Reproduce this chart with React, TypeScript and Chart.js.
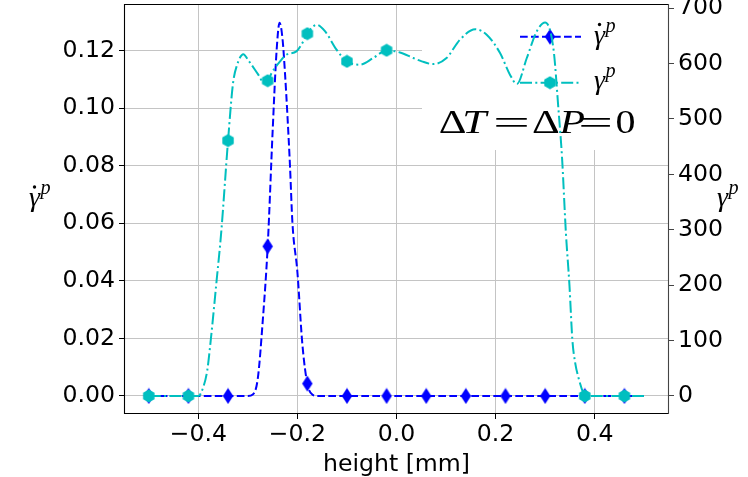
import React, { useEffect, useRef } from "react";
import { Chart, registerables } from "chart.js";

Chart.register(...registerables);

// ---- axis ticks ----
const xTicks = [-0.4, -0.2, 0.0, 0.2, 0.4];
const leftTicks = [0, 0.02, 0.04, 0.06, 0.08, 0.1, 0.12];
const rightTicks = [0, 100, 200, 300, 400, 500, 600, 700];

// ---- plastic strain rate (left axis) ----
const rateHeight = [-0.5, -0.42, -0.34, -0.3, -0.29, -0.28, -0.27, -0.26, -0.25, -0.242, -0.236, -0.23, -0.225, -0.22, -0.215, -0.21, -0.2, -0.19, -0.18, -0.17, -0.16, -0.1, -0.02, 0.06, 0.14, 0.22, 0.3, 0.38, 0.46, 0.5];
const rateValue = [0, 0, 0, 0, 0.0005, 0.006, 0.026, 0.052, 0.092, 0.12, 0.1297, 0.124, 0.112, 0.097, 0.08, 0.06, 0.043, 0.018, 0.0043, 0.0005, 0, 0, 0, 0, 0, 0, 0, 0, 0, 0];
const rateMarkerHeights = [-0.5, -0.42, -0.34, -0.26, -0.18, -0.1, -0.02, 0.06, 0.14, 0.22, 0.3, 0.38, 0.46];

// ---- plastic strain (right axis) ----
const strainHeight = [-0.5, -0.42, -0.4, -0.39, -0.382, -0.375, -0.363, -0.354, -0.34, -0.33, -0.322, -0.309, -0.3, -0.279, -0.269, -0.26, -0.252, -0.235, -0.222, -0.202, -0.192, -0.18, -0.161, -0.144, -0.121, -0.1, -0.074, -0.047, -0.02, 0.007, 0.034, 0.051, 0.074, 0.101, 0.128, 0.159, 0.182, 0.209, 0.229, 0.243, 0.263, 0.283, 0.3, 0.317, 0.327, 0.334, 0.342, 0.349, 0.355, 0.361, 0.367, 0.377, 0.38, 0.46, 0.5];
const strainValue = [0, 0, 0, 16, 46, 100, 209, 293, 461, 564, 597, 617, 607, 580, 567, 569, 583, 604, 616, 622, 634, 654, 670, 658, 625, 604, 598, 610, 624, 620, 610, 604, 599, 610, 643, 662, 652, 619, 580, 563, 610, 658, 674, 625, 516, 432, 293, 201, 101, 58, 34, 5, 0, 0, 0];
const strainMarkerHeights = [-0.5, -0.42, -0.34, -0.26, -0.18, -0.1, -0.02, 0.38, 0.46];

const BLUE = "#0000ff";
const CYAN = "#00bfbf";
const TICK_FONT = { family: "DejaVu Sans", size: 23.6 };

function makeDiamond(): HTMLCanvasElement {
  const c = document.createElement("canvas");
  c.width = 12; c.height = 17;
  const g = c.getContext("2d")!;
  g.fillStyle = BLUE;
  g.beginPath();
  g.moveTo(6, 0.5); g.lineTo(11.2, 8.5); g.lineTo(6, 16.5); g.lineTo(0.8, 8.5);
  g.closePath(); g.fill();
  return c;
}

function makeHex(): HTMLCanvasElement {
  const c = document.createElement("canvas");
  c.width = 14; c.height = 14;
  const g = c.getContext("2d")!;
  g.fillStyle = CYAN;
  g.beginPath();
  const r = 6.6;
  for (let k = 0; k < 6; k++) {
    const a = -Math.PI / 2 + (k * Math.PI) / 3;
    const px = 7 + r * Math.cos(a), py = 7 + r * Math.sin(a);
    if (k === 0) g.moveTo(px, py); else g.lineTo(px, py);
  }
  g.closePath(); g.fill();
  return c;
}

const isIn = (arr: number[], v: number) => arr.some((m) => Math.abs(m - v) < 1e-6);

function drawGamma(ctx: CanvasRenderingContext2D, x: number, base: number, size: number, dotted: boolean) {
  ctx.save();
  ctx.fillStyle = "#000";
  ctx.textBaseline = "alphabetic";
  ctx.textAlign = "left";
  ctx.font = `italic ${size}px "Liberation Serif"`;
  ctx.fillText("γ", x, base);
  const w = ctx.measureText("γ").width;
  if (dotted) {
    ctx.beginPath();
    ctx.arc(x + w * 0.5, base - size * 0.68, size * 0.06, 0, Math.PI * 2);
    ctx.fill();
  }
  ctx.font = `italic ${size * 0.72}px "Liberation Serif"`;
  ctx.fillText("p", x + w + 0.5, base - size * 0.42);
  ctx.restore();
}

function drawFitted(ctx: CanvasRenderingContext2D, text: string, italic: boolean, left: number, right: number, base: number, size: number) {
  ctx.save();
  ctx.font = `${italic ? "italic " : ""}${size}px "Liberation Serif"`;
  ctx.textBaseline = "alphabetic";
  ctx.textAlign = "left";
  ctx.fillStyle = "#000";
  const m = ctx.measureText(text);
  const ink = m.actualBoundingBoxLeft + m.actualBoundingBoxRight;
  const sx = (right - left) / ink;
  ctx.translate(left + m.actualBoundingBoxLeft * sx, base);
  ctx.scale(sx, 1);
  ctx.fillText(text, 0, 0);
  ctx.restore();
}

export default function App() {
  const ref = useRef<HTMLCanvasElement | null>(null);

  useEffect(() => {
    document.body.style.margin = "0";
    const canvas = ref.current!;
    const diamond = makeDiamond();
    const hex = makeHex();

    const rateData = rateHeight.map((h, i) => ({ x: h, y: rateValue[i] }));
    const strainData = strainHeight.map((h, i) => ({ x: h, y: strainValue[i] }));

    const BLUE_DASH = [7.7, 3.3];
    const CYAN_DASH = [12, 3.3, 2, 3.3];

    const overlay = {
      id: "overlay",
      beforeDatasetsDraw(chart: any) {
        const ctx: CanvasRenderingContext2D = chart.ctx;
        const a = chart.chartArea;
        ctx.save();
        ctx.fillStyle = "#ffffff";
        ctx.fillRect(422, a.top + 1, a.right - 1 - 422, 150 - a.top - 1);
        ctx.lineWidth = 2;
        ctx.strokeStyle = BLUE;
        ctx.setLineDash(BLUE_DASH);
        ctx.beginPath(); ctx.moveTo(520, 36.7); ctx.lineTo(581, 36.7); ctx.stroke();
        ctx.drawImage(diamond, 550 - diamond.width / 2, 36.7 - diamond.height / 2);
        ctx.strokeStyle = CYAN;
        ctx.setLineDash(CYAN_DASH);
        ctx.beginPath(); ctx.moveTo(520, 82.7); ctx.lineTo(581, 82.7); ctx.stroke();
        ctx.drawImage(hex, 550 - hex.width / 2, 82.7 - hex.height / 2);
        ctx.setLineDash([]);
        ctx.restore();
        drawGamma(ctx, 594, 43.5, 28, true);
        drawGamma(ctx, 594, 89, 28, false);
        const b = 133.3, fs = 32.8;
        drawFitted(ctx, "Δ", false, 440, 465, b, fs);
        drawFitted(ctx, "T", true, 465, 490, b, fs);
        drawFitted(ctx, "=", false, 495, 527, b + 1, fs);
        drawFitted(ctx, "Δ", false, 533.3, 558.3, b, fs);
        drawFitted(ctx, "P", true, 558.3, 585, b, fs);
        drawFitted(ctx, "=", false, 580, 610, b + 1, fs);
        drawFitted(ctx, "0", false, 616.7, 635, b, fs);
      },
      afterDraw(chart: any) {
        const ctx: CanvasRenderingContext2D = chart.ctx;
        const a = chart.chartArea;
        ctx.save();
        ctx.lineWidth = 1.1;
        ctx.strokeStyle = "#000";
        ctx.beginPath();
        ctx.moveTo(a.left + 0.5, a.top + 0.5);
        ctx.lineTo(a.right - 0.5, a.top + 0.5);
        ctx.moveTo(a.left + 0.5, a.top);
        ctx.lineTo(a.left + 0.5, a.bottom);
        ctx.moveTo(a.left, a.bottom - 0.5);
        ctx.lineTo(a.right, a.bottom - 0.5);
        ctx.stroke();
        ctx.strokeStyle = "#444";
        ctx.beginPath();
        ctx.moveTo(a.right - 0.5, a.top);
        ctx.lineTo(a.right - 0.5, a.bottom);
        ctx.stroke();
        ctx.fillStyle = "#000";
        ctx.font = '23.6px "DejaVu Sans"';
        ctx.textAlign = "center";
        ctx.textBaseline = "alphabetic";
        ctx.fillText("height [mm]", (a.left + a.right) / 2, 471);
        ctx.restore();
        drawGamma(ctx, 29, 206, 28, true);
        drawGamma(ctx, 717, 206, 28, false);
      },
    };

    const zeroPad = (s: any) => { s.paddingTop = 0; s.paddingBottom = 0; s.paddingLeft = 0; s.paddingRight = 0; };

    const chart = new Chart(canvas, {
      type: "line",
      data: {
        datasets: [
          {
            label: "γ^p",
            data: strainData,
            yAxisID: "y1",
            borderColor: CYAN,
            backgroundColor: CYAN,
            borderWidth: 2,
            borderDash: CYAN_DASH,
            cubicInterpolationMode: "monotone",
            fill: false,
            pointStyle: hex as any,
            pointRadius: (c: any) => (isIn(strainMarkerHeights, c.raw?.x) ? 7 : 0),
            pointHoverRadius: 0,
            order: 0,
          },
          {
            label: "γ̇^p",
            data: rateData,
            yAxisID: "y",
            borderColor: BLUE,
            backgroundColor: BLUE,
            borderWidth: 2,
            borderDash: BLUE_DASH,
            cubicInterpolationMode: "monotone",
            fill: false,
            pointStyle: diamond as any,
            pointRadius: (c: any) => (isIn(rateMarkerHeights, c.raw?.x) ? 7 : 0),
            pointHoverRadius: 0,
            order: 1,
          },
        ],
      },
      options: {
        responsive: false,
        animation: false,
        devicePixelRatio: 1,
        events: [],
        layout: { autoPadding: false, padding: { top: 4, left: 0, right: 0, bottom: 0 } },
        plugins: { legend: { display: false }, tooltip: { enabled: false } },
        scales: {
          x: {
            type: "linear",
            min: -0.55,
            max: 0.55,
            afterBuildTicks: (s: any) => { s.ticks = xTicks.map((v) => ({ value: v })); },
            afterFit: (s: any) => { s.height = 63; zeroPad(s); },
            ticks: {
              font: TICK_FONT,
              color: "#000",
              padding: 2,
              maxRotation: 0,
              autoSkip: false,
              callback: (v: any) => {
                const n = Number(v);
                if (Math.abs(n) < 1e-9) return "0.0";
                return (n < 0 ? "\u2212" : "") + Math.abs(n).toFixed(1);
              },
            },
            grid: { color: "#c4c4c4", lineWidth: 1, tickColor: "#000", tickLength: 5, drawTicks: true },
            border: { display: false },
          },
          y: {
            type: "linear",
            position: "left",
            min: -0.00626,
            max: 0.1362,
            afterBuildTicks: (s: any) => { s.ticks = leftTicks.map((v) => ({ value: v })); },
            afterFit: (s: any) => { s.width = 124; zeroPad(s); },
            ticks: {
              font: TICK_FONT,
              color: "#000",
              padding: 4,
              autoSkip: false,
              callback: (v: any) => Number(v).toFixed(2),
            },
            grid: { color: "#c4c4c4", lineWidth: 1, tickColor: "#000", tickLength: 5, drawTicks: true },
            border: { display: false },
          },
          y1: {
            type: "linear",
            position: "right",
            min: -32.5,
            max: 707.5,
            afterBuildTicks: (s: any) => { s.ticks = rightTicks.map((v) => ({ value: v })); },
            afterFit: (s: any) => { s.width = 79; zeroPad(s); },
            ticks: {
              font: TICK_FONT,
              color: "#000",
              padding: 4,
              autoSkip: false,
              callback: (v: any) => String(Math.round(Number(v))),
            },
            grid: { drawOnChartArea: false, tickColor: "#444", tickLength: 5, drawTicks: true },
            border: { display: false },
          },
        },
      },
      plugins: [overlay as any],
    } as any);

    return () => chart.destroy();
  }, []);

  return (
    <div style={{ width: 748, height: 477 }}>
      <canvas ref={ref} width={748} height={477} style={{ display: "block", width: 748, height: 477 }} />
    </div>
  );
}
